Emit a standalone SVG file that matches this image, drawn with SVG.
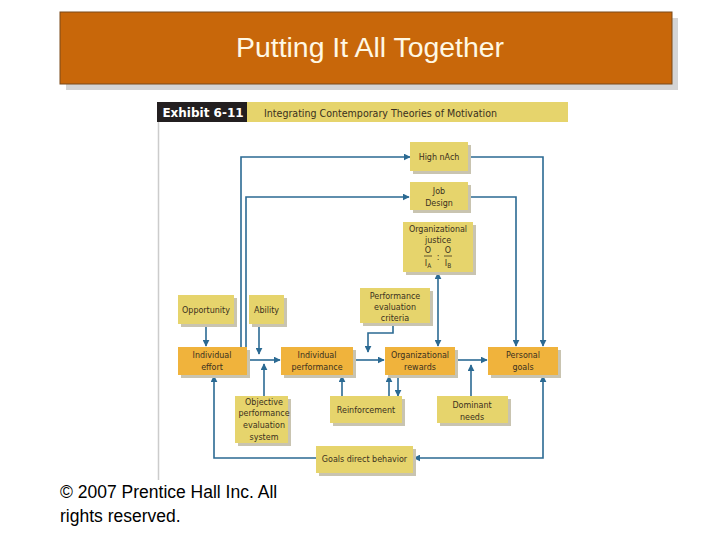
<svg xmlns="http://www.w3.org/2000/svg" width="720" height="540" viewBox="0 0 720 540">
<defs>
<marker id="ah" viewBox="0 0 10 10" refX="9" refY="5" markerWidth="7" markerHeight="7" markerUnits="userSpaceOnUse" orient="auto-start-reverse">
<path d="M0,0 L10,5 L0,10 z" fill="#2B6A93"/>
</marker>
<style>
.lt{fill:#E6D46C}
.or{fill:#F0B33C}
.sh{fill:#C9C4B0}
.t{font-family:"DejaVu Sans Condensed","DejaVu Sans",sans-serif;font-size:8.9px;fill:#3A3020;text-anchor:middle}
.c{fill:none;stroke:#2B6A93;stroke-width:1.6}
.a{marker-end:url(#ah)}
.b{marker-start:url(#ah)}
</style>
</defs>
<rect width="720" height="540" fill="#FFFFFF"/>
<g id="title">
<rect x="66" y="18" width="612" height="72" fill="#D4D4D4"/>
<rect x="60" y="12" width="612" height="72" fill="#C8670A" stroke="#7A4A1A" stroke-width="1"/>
<text x="370" y="57" font-family="Liberation Sans, Arial, sans-serif" font-size="27" fill="#FFF8E4" text-anchor="middle" textLength="268" lengthAdjust="spacingAndGlyphs">Putting It All Together</text>
</g>
<g id="header">
<rect x="157" y="102" width="90" height="20" fill="#231F20"/>
<text x="203" y="117" font-family="DejaVu Sans, sans-serif" font-size="12" font-weight="bold" fill="#FFFFFF" text-anchor="middle">Exhibit 6-11</text>
<rect x="247" y="102" width="321" height="20" fill="#E6D46C"/>
<text x="264" y="116.5" font-family="DejaVu Sans Condensed, DejaVu Sans, sans-serif" font-size="10.5" fill="#3A3020" textLength="233" lengthAdjust="spacingAndGlyphs">Integrating Contemporary Theories of Motivation</text>
<line x1="158.5" y1="122" x2="158.5" y2="480" stroke="#CCCCCC" stroke-width="1.5"/>
</g>
<g id="connectors">
<path class="c a" d="M241,347 V157 H410"/>
<path class="c a" d="M468,157 H543 V346"/>
<path class="c a" d="M246,347 V197 H409"/>
<path class="c a" d="M468,197 H516 V346"/>
<path class="c a b" d="M438,273 V346"/>
<path class="c a" d="M206,325 V346"/>
<path class="c a" d="M259,325 V354"/>
<path class="c a" d="M248,360 H280"/>
<path class="c a" d="M264,396 V364"/>
<path class="c a" d="M353,360 H384"/>
<path class="c a" d="M393,323 V333 H368 V352"/>
<path class="c a" d="M455,360 H487"/>
<path class="c a" d="M471,396 V365"/>
<path class="c a" d="M342,396 V376"/>
<path class="c a" d="M389,396 V376"/>
<path class="c a" d="M398,376 V396"/>
<path class="c a b" d="M543,376 V458 H414"/>
<path class="c a" d="M316,458 H214 V376"/>
</g>
<g id="high-nach">
<rect class="sh" x="413" y="145" width="58" height="29"/>
<rect class="lt" x="410" y="142" width="58" height="29"/>
<text class="t" x="439" y="160">High nAch</text>
</g>
<g id="job-design">
<rect class="sh" x="413" y="185" width="58" height="28"/>
<rect class="lt" x="410" y="182" width="58" height="28"/>
<text class="t" x="439" y="194">Job</text>
<text class="t" x="439" y="206">Design</text>
</g>
<g id="org-justice">
<rect class="sh" x="406" y="225" width="70" height="50"/>
<rect class="lt" x="403" y="222" width="70" height="50"/>
<text class="t" x="438" y="232">Organizational</text>
<text class="t" x="438" y="243">justice</text>
<text class="t" x="428" y="253">O</text>
<line x1="424" y1="256" x2="432" y2="256" stroke="#3A3020" stroke-width="0.8"/>
<text class="t" x="428" y="266">I<tspan font-size="6.5" dy="2">A</tspan></text>
<text class="t" x="438" y="260">:</text>
<text class="t" x="448" y="253">O</text>
<line x1="444" y1="256" x2="452" y2="256" stroke="#3A3020" stroke-width="0.8"/>
<text class="t" x="448" y="266">I<tspan font-size="6.5" dy="2">B</tspan></text>
</g>
<g id="opportunity">
<rect class="sh" x="181" y="298" width="56" height="29"/>
<rect class="lt" x="178" y="295" width="56" height="29"/>
<text class="t" x="206" y="313">Opportunity</text>
</g>
<g id="ability">
<rect class="sh" x="252" y="298" width="35" height="29"/>
<rect class="lt" x="249" y="295" width="35" height="29"/>
<text class="t" x="266.5" y="313">Ability</text>
</g>
<g id="perf-eval-criteria">
<rect class="sh" x="363" y="291" width="70" height="35"/>
<rect class="lt" x="360" y="288" width="70" height="35"/>
<text class="t" x="395" y="299">Performance</text>
<text class="t" x="395" y="310">evaluation</text>
<text class="t" x="395" y="321">criteria</text>
</g>
<g id="individual-effort">
<rect class="sh" x="181" y="350" width="69" height="28"/>
<rect class="or" x="178" y="347" width="69" height="28"/>
<text class="t" x="212" y="358">Individual</text>
<text class="t" x="212" y="370">effort</text>
</g>
<g id="individual-performance">
<rect class="sh" x="284" y="350" width="72" height="28"/>
<rect class="or" x="281" y="347" width="72" height="28"/>
<text class="t" x="317" y="358">Individual</text>
<text class="t" x="317" y="370">performance</text>
</g>
<g id="org-rewards">
<rect class="sh" x="388" y="350" width="70" height="28"/>
<rect class="or" x="385" y="347" width="70" height="28"/>
<text class="t" x="420" y="358">Organizational</text>
<text class="t" x="420" y="370">rewards</text>
</g>
<g id="personal-goals">
<rect class="sh" x="491" y="350" width="70" height="28"/>
<rect class="or" x="488" y="347" width="70" height="28"/>
<text class="t" x="523" y="358">Personal</text>
<text class="t" x="523" y="370">goals</text>
</g>
<g id="objective-system">
<rect class="sh" x="238" y="399" width="53" height="47"/>
<rect class="lt" x="235" y="396" width="53" height="47"/>
<text class="t" x="264" y="405">Objective</text>
<text class="t" x="264" y="416">performance</text>
<text class="t" x="264" y="428">evaluation</text>
<text class="t" x="264" y="440">system</text>
</g>
<g id="reinforcement">
<rect class="sh" x="333" y="399" width="72" height="27"/>
<rect class="lt" x="330" y="396" width="72" height="27"/>
<text class="t" x="366" y="413">Reinforcement</text>
</g>
<g id="dominant-needs">
<rect class="sh" x="440" y="399" width="71" height="27"/>
<rect class="lt" x="437" y="396" width="71" height="27"/>
<text class="t" x="472" y="408">Dominant</text>
<text class="t" x="472" y="420">needs</text>
</g>
<g id="goals-direct-behavior">
<rect class="sh" x="319" y="449" width="97" height="27"/>
<rect class="lt" x="316" y="446" width="97" height="27"/>
<text class="t" x="364.5" y="462">Goals direct behavior</text>
</g>
<g id="footer">
<text x="60" y="498" font-family="Liberation Sans, Arial, sans-serif" font-size="17.5" fill="#000000">© 2007 Prentice Hall Inc. All</text>
<text x="60" y="522" font-family="Liberation Sans, Arial, sans-serif" font-size="17.5" fill="#000000">rights reserved.</text>
</g>
</svg>
